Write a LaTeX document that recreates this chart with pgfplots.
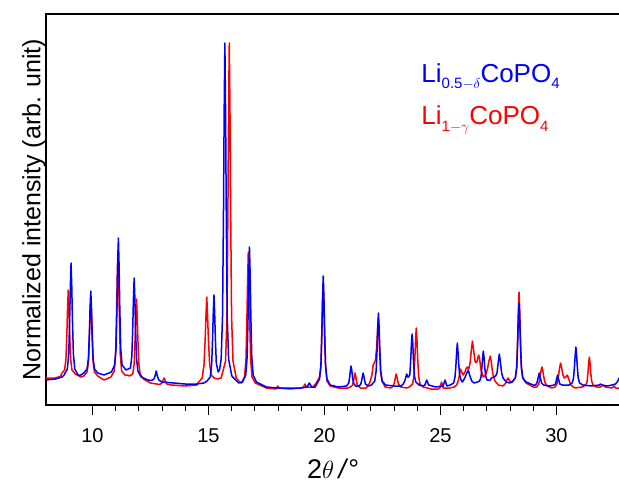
\documentclass[border=0pt]{standalone}
\usepackage{pgfplots}
\pgfplotsset{compat=1.18}
\usepackage{fontspec}
\setmainfont{Liberation Sans}
\newcommand{\sub}[1]{\raisebox{-6.5pt}{\fontsize{15}{15}\selectfont #1}}
\begin{document}
\begin{tikzpicture}
\useasboundingbox (0,0) rectangle (619pt,483pt);
\begin{axis}[at={(46pt,78pt)}, anchor=south west,
  scale only axis, width=580pt, height=391pt,
  xmin=8, xmax=33, ymin=0, ymax=391,
  axis line style={line width=1.2pt, black},
  xtick={10,15,20,25,30}, minor x tick num=4, ytick=\empty,
  xtick pos=left, xtick align=outside,
  major tick length=10pt, minor tick length=6pt,
  tick style={line width=1pt, black},
  /pgf/number format/assume math mode=true,
  tick label style={font=\fontsize{20}{24}\selectfont},
  xticklabel style={yshift=-10pt},
  xlabel={2$\theta$\,\textit{/}°},
  xlabel style={font=\fontsize{27}{30}\selectfont, at={(rel axis cs:0.495,0)}, anchor=center, yshift=-64pt},
  ylabel={Normalized intensity (arb. unit)},
  ylabel style={font=\fontsize{25}{30}\selectfont, yshift=-3pt},
  every axis plot/.append style={line width=1.5pt, line join=round},
]
% red: Li(1-gamma)CoPO4
\addplot[red] coordinates {
(8.0,27) (8.4,27) (8.65,29)
(8.66,31) (8.80,35) (8.86,46) (8.90,72) (8.93,98) (8.96,115) (8.99,98) (9.02,72) (9.06,46) (9.12,35) (9.26,31)
(9.5,28)
(9.63,29) (9.77,33) (9.83,43) (9.87,67) (9.90,92) (9.93,108) (9.96,92) (9.99,67) (10.03,43) (10.09,33) (10.23,29)
(10.5,25)
(10.80,28) (10.94,34) (11.00,51) (11.04,90) (11.07,129) (11.10,155) (11.13,129) (11.16,90) (11.20,51) (11.26,34) (11.40,30)
(11.5,30)
(11.60,29) (11.74,31) (11.80,41) (11.84,66) (11.87,90) (11.90,106) (11.93,90) (11.96,66) (12.00,41) (12.06,31) (12.20,26)
(12.5,22)
(12.9,20.5) (13.0,22) (13.05,25) (13.09,27) (13.13,25) (13.2,21) (13.4,20)
(14.0,19) (14.5,20)
(14.55,22) (14.73,27) (14.81,40) (14.86,65) (14.90,92) (14.93,108) (14.96,92) (15.00,66) (15.05,42) (15.12,30) (15.25,27)
(15.4,26) (15.55,27)
(15.74,44) (15.80,88) (15.84,191) (15.87,294) (15.90,362) (15.93,294) (15.96,191) (16.00,88) (16.06,44) (16.20,27)
(16.35,23)
(16.42,22) (16.56,28) (16.62,46) (16.66,86) (16.69,126) (16.72,153) (16.75,126) (16.78,86) (16.82,46) (16.88,28) (17.02,22)
(17.5,17) (17.9,16) (17.95,17) (17.99,19) (18.05,17) (18.5,16) (19.0,17)
(19.1,18) (19.16,21) (19.22,18) (19.5,18)
(19.65,22) (19.79,28) (19.85,38) (19.89,70) (19.92,101) (19.95,122) (19.98,101) (20.01,70) (20.05,38) (20.11,24) (20.25,19)
(20.6,17) (21.0,17)
(21.12,18) (21.22,20) (21.26,24) (21.29,29) (21.32,32) (21.35,29) (21.38,24) (21.42,20) (21.55,17)
(21.8,17)
(21.95,22) (22.05,30) (22.1,40) (22.15,42) (22.2,45) (22.25,57) (22.29,75) (22.32,87) (22.35,75) (22.38,53) (22.42,33) (22.48,24) (22.62,18)
(22.85,17)
(22.92,18) (23.0,21) (23.04,25) (23.07,29) (23.09,31) (23.12,29) (23.15,25) (23.19,21) (23.3,18)
(23.55,17)
(23.66,18) (23.80,21) (23.86,29) (23.90,47) (23.93,65) (23.96,77) (23.99,65) (24.02,47) (24.06,29) (24.12,21) (24.26,18)
(24.6,16) (24.9,16) (24.98,17) (25.05,23) (25.12,17) (25.4,17) (25.6,18)
(25.7,20) (25.78,25) (25.83,31) (25.86,36) (25.90,34) (25.98,30) (26.06,33) (26.12,37) (26.16,38) (26.22,36) (26.28,42) (26.33,54) (26.38,64) (26.43,55) (26.5,43) (26.57,43) (26.62,48) (26.65,50) (26.69,46) (26.75,35) (26.85,28) (26.95,30) (27.03,36) (27.09,44) (27.15,49) (27.19,44) (27.25,32) (27.35,24) (27.5,20) (27.7,19) (27.82,22) (27.88,26) (27.92,27) (27.98,24)
(28.09,23) (28.23,27) (28.29,39) (28.33,67) (28.36,95) (28.39,113) (28.42,95) (28.45,67) (28.49,39) (28.55,27) (28.69,22)
(29.0,18)
(29.15,18) (29.24,21) (29.29,27) (29.33,33) (29.36,37) (29.38,38) (29.41,35) (29.45,29) (29.5,23) (29.6,19)
(29.8,17)
(29.95,18) (30.04,22) (30.09,29) (30.13,36) (30.18,42) (30.23,37) (30.28,30) (30.34,27) (30.41,28) (30.47,30) (30.53,26) (30.62,20) (30.8,17)
(31.12,18) (31.26,20) (31.32,23) (31.36,32) (31.39,42) (31.42,48) (31.45,42) (31.48,32) (31.52,24) (31.58,20) (31.72,18)
(31.9,18) (32.0,20) (32.1,18) (32.4,17) (32.5,19) (32.55,17) (32.7,17)
};
% blue: Li(0.5-delta)CoPO4
\addplot[blue] coordinates {
(8.0,25) (8.4,26) (8.7,28)
(8.78,30) (8.92,36) (8.98,51) (9.02,85) (9.05,119) (9.08,142) (9.11,119) (9.14,85) (9.18,51) (9.24,36) (9.38,30)
(9.5,30)
(9.63,32) (9.77,36) (9.83,47) (9.87,72) (9.90,97) (9.93,114) (9.96,97) (9.99,72) (10.03,47) (10.09,36) (10.23,32)
(10.5,30)
(10.82,33) (10.96,40) (11.02,57) (11.06,98) (11.09,140) (11.12,167) (11.15,140) (11.18,98) (11.22,57) (11.28,40) (11.45,35)
(11.64,37) (11.70,49) (11.74,78) (11.77,107) (11.80,127) (11.83,107) (11.86,77) (11.90,47) (11.96,34) (12.10,28)
(12.4,25)
(12.55,24.5) (12.65,26) (12.70,29) (12.75,34) (12.80,29) (12.86,25) (13.0,23)
(13.5,22) (14.0,21) (14.5,21) (14.8,22)
(14.94,24) (15.08,28) (15.14,40) (15.18,66) (15.21,92) (15.24,110) (15.27,92) (15.30,67) (15.34,42) (15.42,33)
(15.48,35) (15.55,46) (15.61,90) (15.65,192) (15.68,294) (15.71,362) (15.74,294) (15.77,192) (15.81,90) (15.87,46) (16.01,29)
(16.3,22)
(16.47,23) (16.61,30) (16.67,48) (16.71,89) (16.74,130) (16.77,158) (16.80,130) (16.83,89) (16.87,48) (16.93,30) (17.07,23)
(17.5,18) (18.0,17) (18.5,17) (19.0,17)
(19.25,18) (19.35,22) (19.45,18) (19.6,18)
(19.65,20) (19.79,26) (19.85,40) (19.89,73) (19.92,107) (19.95,129) (19.98,107) (20.01,73) (20.05,40) (20.11,26) (20.25,20)
(20.6,18)
(20.95,19) (21.05,22) (21.09,28) (21.12,35) (21.15,39) (21.18,35) (21.21,28) (21.25,22) (21.35,19)
(21.5,19) (21.57,21) (21.61,25) (21.64,29) (21.67,32) (21.70,29) (21.73,25) (21.77,21) (21.9,19)
(22.03,20) (22.17,24) (22.23,34) (22.27,55) (22.30,77) (22.33,92) (22.36,77) (22.39,55) (22.43,34) (22.49,24) (22.63,20)
(23.0,19) (23.3,19)
(23.40,21) (23.48,25) (23.52,29) (23.55,31) (23.59,28) (23.62,28) (23.68,30) (23.72,45) (23.75,61) (23.78,71) (23.81,61) (23.84,45) (23.88,29) (23.94,23) (24.08,20)
(24.25,19) (24.33,20) (24.41,25) (24.49,20) (24.8,18)
(25.12,19) (25.2,25) (25.28,19)
(25.43,20) (25.57,22) (25.63,28) (25.67,40) (25.70,53) (25.73,62) (25.76,53) (25.79,41) (25.83,30) (25.89,25) (25.95,23)
(26.05,27) (26.12,31) (26.2,35) (26.26,30) (26.35,24) (26.45,22)
(26.6,23) (26.69,24) (26.75,28) (26.79,38) (26.82,48) (26.85,54) (26.88,48) (26.91,38) (26.95,29) (27.01,25) (27.15,25)
(27.2,27) (27.3,28) (27.38,29) (27.44,32) (27.48,40) (27.51,46) (27.54,51) (27.57,46) (27.60,40) (27.64,32) (27.70,27) (27.84,23)
(28.0,22)
(28.09,23) (28.23,27) (28.29,37) (28.33,61) (28.36,86) (28.39,102) (28.42,86) (28.45,61) (28.49,37) (28.55,27) (28.69,23)
(29.0,20)
(29.1,20) (29.16,22) (29.2,26) (29.23,29) (29.26,32) (29.29,29) (29.32,26) (29.36,22) (29.45,20)
(29.7,19)
(29.9,20) (29.96,21) (30.0,25) (30.05,30) (30.1,25) (30.15,21) (30.25,20)
(30.54,20) (30.68,22) (30.74,27) (30.78,39) (30.81,50) (30.84,58) (30.87,50) (30.90,39) (30.94,27) (31.0,22) (31.14,20)
(31.5,19) (31.85,20) (31.9,21) (31.95,20) (32.2,19) (32.4,20) (32.55,21) (32.65,24) (32.7,27)
};
\node[anchor=base west, text=blue, font=\fontsize{26}{30}\selectfont] at (axis cs:24.03,323) {Li\sub{0.5$-\delta$}CoPO\sub{4}};
\node[anchor=base west, text=red, font=\fontsize{26}{30}\selectfont] at (axis cs:24.03,280) {Li\sub{1$-\gamma$}CoPO\sub{4}};
\end{axis}
\end{tikzpicture}
\end{document}
